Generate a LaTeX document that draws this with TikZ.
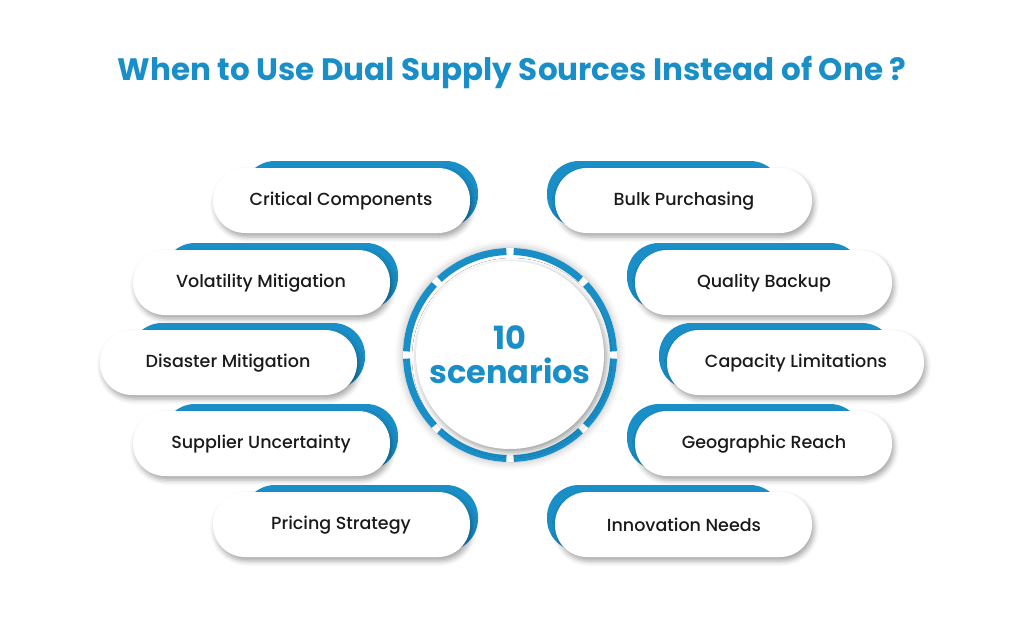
\documentclass[tikz,border=0pt]{standalone}
\usepackage{fontspec}
\setmainfont{Poppins}
\newfontfamily\medfont{Poppins Medium}
\usetikzlibrary{shadows.blur}
\definecolor{bl}{HTML}{1A8FC7}
\definecolor{tx}{HTML}{1A1A1A}
\tikzset{pill/.style={fill=white,rounded corners=32pt,blur shadow={shadow xshift=2pt,shadow yshift=-4pt,shadow blur radius=5pt,shadow opacity=35}},
 back/.style={fill=bl,rounded corners=32pt},
 lab/.style={font=\medfont\fontsize{17.5}{20}\selectfont,text=tx}}
\begin{document}
\begin{tikzpicture}[x=1pt,y=-1pt]
\useasboundingbox (0,0) rectangle (1024,627);
\node[font=\fontsize{31}{34}\selectfont\bfseries,text=bl] (title) at (512,72) {When to Use Dual Supply Sources Instead of One ?};
% left pills
\foreach \x/\y/\t [count=\i] in {213/200/Critical Components,133/282/Volatility Mitigation,100/362/Disaster Mitigation,133/443/Supplier Uncertainty,213/524/Pricing Strategy}{
  \fill[back] (\x+30,\y-39) rectangle (\x+265,\y+27);
  \filldraw[pill,draw=none] (\x,\y-32) rectangle (\x+257,\y+33);
  \node[lab] (L\i) at (\x+128,\y+1) {\t};
}
\foreach \x/\y/\t [count=\i] in {555/200/Bulk Purchasing,635/282/Quality Backup,667/362/Capacity Limitations,635/443/Geographic Reach,555/524/Innovation Needs}{
  \fill[back] (\x-8,\y-39) rectangle (\x+227,\y+27);
  \filldraw[pill,draw=none] (\x,\y-32) rectangle (\x+257,\y+33);
  \node[lab] (R\i) at (\x+129,\y+1) {\t};
}
% center
\fill[white,blur shadow={shadow xshift=0pt,shadow yshift=0pt,shadow blur radius=8pt,shadow opacity=30}] (510,355) circle (107);
\foreach \a in {0,45,...,315}{
  \draw[bl,line width=7pt] ([shift={(\a+2:103.5)}]510,355) arc[start angle=\a+2,end angle=\a+43,radius=103.5];
}
\fill[white,blur shadow={shadow xshift=2pt,shadow yshift=-3pt,shadow blur radius=6pt,shadow opacity=40}] (510,355) circle (94);
\node[font=\fontsize{32}{34}\selectfont\bfseries,text=bl,align=center] (c) at (510,355) {10\\scenarios};
\end{tikzpicture}
\end{document}
